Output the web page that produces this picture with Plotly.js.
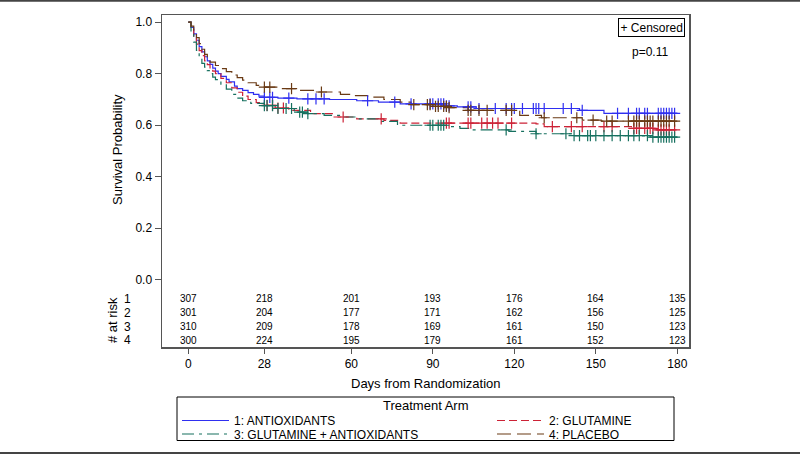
<!DOCTYPE html>
<html><head><meta charset="utf-8">
<script src="https://cdn.plot.ly/plotly-3.0.1.min.js"></script>
<style>html,body{margin:0;padding:0;background:#fff;}#chart{width:800px;height:456px;}</style>
</head><body><div id="chart"></div>
<script>
// ---- data ----
const armNames = ["1: ANTIOXIDANTS", "2: GLUTAMINE", "3: GLUTAMINE + ANTIOXIDANTS", "4: PLACEBO"];
const tickDays = [0, 28, 60, 90, 120, 150, 180];

const antioxT = [0,1,2,3,4,5,6,7,8,9,10,11,12,14,15,17,18,20,22,24,26,28,33,40,52,62,70,78,95,99,106,144,153,180];
const antioxS = [1.0,0.98,0.955,0.93,0.905,0.885,0.866,0.85,0.836,0.822,0.81,0.80,0.79,0.778,0.768,0.752,0.742,0.735,0.727,0.72,0.713,0.708,0.705,0.702,0.70,0.695,0.69,0.683,0.675,0.671,0.665,0.658,0.646,0.646];
const antioxCens = [28,30,31,37,44,47,50,66,76,82,89,90,92,93,94,95,96,103,104,107,113,117,119,120,123,127,128,129,131,138,141,145,158,162,165,166,168,169,173,174,175,176,177,178,179];

const glutT = [0,1,2,3,4,5,6,7,8,9,10,12,14,16,18,20,22,25,28,32,37,45,53,62,72,78,128,131,164,172,180];
const glutS = [1.0,0.975,0.94,0.915,0.89,0.87,0.85,0.835,0.82,0.81,0.80,0.782,0.765,0.745,0.728,0.713,0.70,0.688,0.677,0.667,0.658,0.645,0.632,0.625,0.619,0.608,0.605,0.595,0.588,0.582,0.582];
const glutCens = [29,31,33,35,57,71,95,96,103,104,108,110,112,114,119,134,141,145,153,156,164,165,166,168,169,170,171,173,174,175,176,177,179];

const glutAntT = [0,1,2,3,4,5,6,7,8,9,10,12,14,16,18,20,23,28,33,39,44,50,56,62,70,77,96,100,104,118,128,141,170,180];
const glutAntS = [1.0,0.96,0.923,0.891,0.86,0.84,0.826,0.812,0.80,0.787,0.777,0.76,0.74,0.72,0.705,0.695,0.685,0.676,0.665,0.651,0.645,0.638,0.632,0.625,0.615,0.60,0.595,0.588,0.582,0.576,0.567,0.56,0.554,0.554];
const glutAntCens = [28,29,31,33,36,38,41,42,44,89,90,92,93,94,117,128,139,142,144,147,148,150,153,156,159,162,164,166,169,171,173,174,175,176,177,178,179];

const placeboT = [0,1,2,3,4,5,6,7,8,10,12,14,16,18,20,22,25,28,33,40,48,56,61,66,72,78,82,90,96,103,122,130,145,152,180];
const placeboS = [1.0,0.985,0.965,0.94,0.917,0.895,0.875,0.858,0.845,0.832,0.82,0.808,0.795,0.785,0.775,0.765,0.755,0.748,0.742,0.735,0.729,0.72,0.715,0.709,0.70,0.69,0.68,0.673,0.668,0.658,0.638,0.629,0.62,0.616,0.616];
const placeboCens = [28,30,38,49,83,88,89,91,92,94,95,96,103,104,107,110,117,119,131,143,149,154,156,162,164,165,166,168,169,170,171,173,174,175,176,177,179];

const riskAntiox  = [307,218,201,193,176,164,135];
const riskGlut    = [301,204,177,171,162,156,125];
const riskGlutAnt = [310,209,178,169,161,150,123];
const riskPlacebo = [300,224,195,179,161,152,123];

// ---- helpers ----
const L = 162, R = 689, T = 15, B = 347, W = 800, H = 456;
const px = x => (x - L) / (R - L);
const py = y => (B - y) / (B - T);
function stepAt(ts, ss, t) { let v = ss[0]; for (let i = 0; i < ts.length; i++) { if (ts[i] <= t) v = ss[i]; } return v; }

const arms = [
  {name: armNames[0], t: antioxT, s: antioxS, c: antioxCens, risk: riskAntiox, color: "#2f2ff0", dash: "solid", leg: "legend"},
  {name: armNames[1], t: glutT, s: glutS, c: glutCens, risk: riskGlut, color: "#cc2236", dash: "8px,4px", leg: "legend2"},
  {name: armNames[2], t: glutAntT, s: glutAntS, c: glutAntCens, risk: riskGlutAnt, color: "#16705f", dash: "12px,5px,3px,5px", leg: "legend3"},
  {name: armNames[3], t: placeboT, s: placeboS, c: placeboCens, risk: riskPlacebo, color: "#6a3a14", dash: "14px,6px", leg: "legend4"}
];

const traces = [];
arms.forEach(a => {
  traces.push({x: a.t, y: a.s, type: "scatter", mode: "lines", name: a.name, legend: a.leg,
    line: {shape: "hv", color: a.color, width: 1.2, dash: a.dash}, hoverinfo: "skip"});
});
arms.forEach(a => {
  traces.push({x: a.c, y: a.c.map(t => stepAt(a.t, a.s, t)), type: "scatter", mode: "markers", showlegend: false,
    marker: {symbol: "cross-thin-open", size: 8, color: a.color, line: {color: a.color, width: 1.2}}, hoverinfo: "skip"});
});

const font = "Liberation Sans, Arial, sans-serif";
const annotations = [];
const rowY = [298.5, 312.5, 326.5, 340.0];
arms.forEach((a, i) => {
  a.risk.forEach((n, j) => {
    annotations.push({x: tickDays[j], y: py(rowY[i]), xref: "x", yref: "paper", text: String(n), showarrow: false,
      font: {family: font, size: 10, color: "#000"}, xanchor: "center", yanchor: "middle"});
  });
  annotations.push({x: px(127), y: py(rowY[i]), xref: "paper", yref: "paper", text: String(i + 1), showarrow: false,
    font: {family: font, size: 12, color: "#000"}, xanchor: "center", yanchor: "middle"});
});
annotations.push({x: px(112), y: py(320), xref: "paper", yref: "paper", text: "# at risk", textangle: -90, showarrow: false,
  font: {family: font, size: 13, color: "#000"}, xanchor: "center", yanchor: "middle"});
annotations.push({x: px(118), y: py(150), xref: "paper", yref: "paper", text: "Survival Probability", textangle: -90, showarrow: false,
  font: {family: font, size: 13, color: "#000"}, xanchor: "center", yanchor: "middle"});
annotations.push({x: px(426), y: py(383), xref: "paper", yref: "paper", text: "Days from Randomization", showarrow: false,
  font: {family: font, size: 13, color: "#000"}, xanchor: "center", yanchor: "middle"});
annotations.push({x: px(651), y: py(27), xref: "paper", yref: "paper", text: "+ Censored", showarrow: false,
  font: {family: font, size: 12, color: "#000"}, xanchor: "center", yanchor: "middle", bordercolor: "#000", borderwidth: 1, borderpad: 1.5, bgcolor: "#fff"});
annotations.push({x: px(650), y: py(52), xref: "paper", yref: "paper", text: "p=0.11", showarrow: false,
  font: {family: font, size: 12, color: "#000"}, xanchor: "center", yanchor: "middle"});
annotations.push({x: px(425.5), y: py(405), xref: "paper", yref: "paper", text: "Treatment Arm", showarrow: false,
  font: {family: font, size: 13, color: "#000"}, xanchor: "center", yanchor: "middle"});

const shapes = [
  {type: "line", xref: "paper", yref: "paper", x0: px(0), x1: px(W), y0: py(0.8), y1: py(0.8), line: {color: "#444", width: 2}},
  {type: "line", xref: "paper", yref: "paper", x0: px(0), x1: px(W), y0: py(453), y1: py(453), line: {color: "#444", width: 2}},
  {type: "rect", xref: "paper", yref: "paper", x0: px(177), x1: px(674), y0: py(440.5), y1: py(397), line: {color: "#000", width: 1}}
];

function legendAt(xpx, ypx) {
  return {x: px(xpx), y: py(ypx), xanchor: "left", yanchor: "middle", orientation: "v", bgcolor: "rgba(0,0,0,0)",
    borderwidth: 0, itemwidth: 47, font: {family: font, size: 12, color: "#000"}, tracegroupgap: 0};
}

const layout = {
  width: W, height: H,
  margin: {l: L, r: W - R, t: T, b: H - B, pad: 0, autoexpand: false},
  paper_bgcolor: "#fff", plot_bgcolor: "#fff",
  font: {family: font, size: 12, color: "#000"},
  xaxis: {range: [-9.68, 184.3], tickvals: tickDays, ticktext: tickDays.map(String), ticks: "outside", ticklen: 5, tickcolor: "#555",
    showline: true, linecolor: "#555", linewidth: 1.5, mirror: true, showgrid: false, zeroline: false,
    tickfont: {family: font, size: 12, color: "#000"}},
  yaxis: {range: [-0.261, 1.028], tickvals: [0, 0.2, 0.4, 0.6, 0.8, 1.0], ticktext: ["0.0", "0.2", "0.4", "0.6", "0.8", "1.0"],
    ticks: "outside", ticklen: 6, tickcolor: "#555", showline: true, linecolor: "#555", linewidth: 1.5, mirror: true,
    showgrid: false, zeroline: false, tickfont: {family: font, size: 12, color: "#000"}},
  showlegend: true,
  legend: legendAt(177, 420.5),
  legend2: legendAt(492, 420.5),
  legend3: legendAt(177, 434),
  legend4: legendAt(492, 434),
  annotations: annotations,
  shapes: shapes
};

Plotly.newPlot("chart", traces, layout, {displayModeBar: false, staticPlot: true});
</script></body></html>
